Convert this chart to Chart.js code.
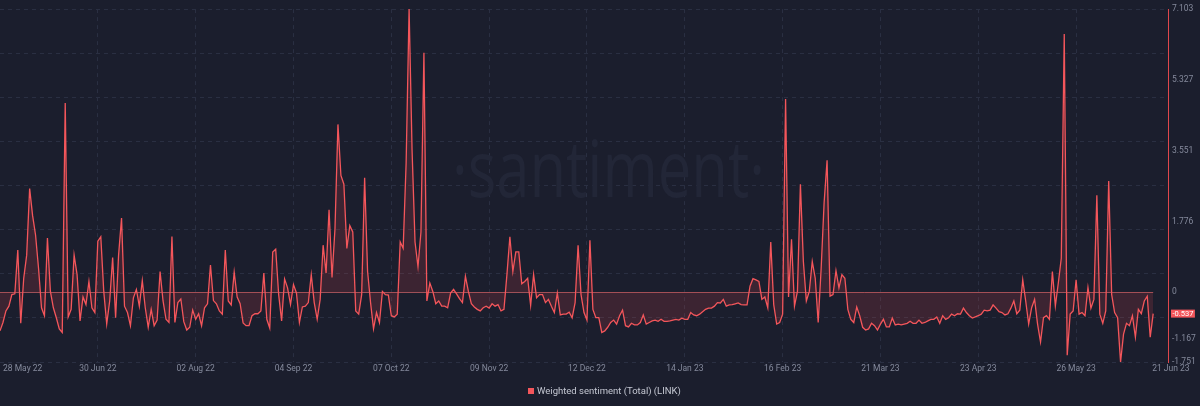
<!DOCTYPE html>
<html>
<head>
  <title>Weighted sentiment (Total) (LINK)</title>
  <script src="https://cdn.jsdelivr.net/npm/chart.js"></script>
  <style>
    body { margin: 0; background: #1b1e2d; }
    .wrap { width: 1200px; height: 406px; position: relative; }
  </style>
</head>
<body>
  <div class="wrap"><canvas id="chart"></canvas></div>

  <script>
    // daily weighted sentiment, 28 May 22 .. 21 Jun 23
    const values = [
      -0.97, -0.76, -0.47, -0.35, -0.06, -0.04, 1.06, -0.78, 0.35, 0.93,
      2.60, 1.92, 1.43, 0.60, -0.39, -0.59, 1.36, 0.02, -0.39, -0.64,
      -0.92, -1.01, 4.75, -0.62, -0.43, 0.93, 0.44, -0.72, -0.12, -0.31,
      0.27, -0.39, -0.51, 1.28, 1.39, 0.02, -0.80, -0.22, 0.87, -0.64,
      0.93, 1.86, -0.35, -0.51, -0.84, -0.14, 0.07, -0.35, 0.29, -0.39,
      -0.88, -0.43, -0.84, -0.70, 0.52, -0.22, -0.68, -0.76, 1.40, -0.76,
      -0.26, -0.17, -0.74, -0.95, -0.88, -0.45, -0.68, -0.54, -0.84, -0.39,
      -0.29, 0.68, -0.21, -0.29, -0.47, -0.55, 1.06, -0.22, -0.32, 0.50,
      -0.12, -0.29, -0.77, -0.84, -0.84, -0.59, -0.54, -0.54, -0.47, 0.48,
      -0.68, -0.90, 1.01, 1.08, -0.06, -0.72, 0.33, 0.11, -0.31, 0.19,
      -0.02, -0.76,
      -0.37, -0.35, -0.26, 0.44, -0.26, -0.68, -0.18, 1.18, 0.48, 2.07,
      0.37, 1.59, 4.21, 2.93, 2.71, 1.10, 1.67, 1.51, -0.47, -0.55,
      -0.06, 2.87, 0.52, -0.26, -0.92, -0.51, -0.76, 0.02, -0.06, -0.07,
      -0.59, -0.62, -0.55, 1.26, 1.10, 3.24, 7.103, 3.57, 1.26, 0.64,
      1.51, 6.01, -0.22, 0.23, 0.02, -0.29, -0.22, -0.35, -0.35, -0.39,
      -0.02, 0.07, -0.04, -0.16, -0.26, 0.40, 0.02, -0.29, -0.37, -0.43,
      -0.47, -0.39, -0.35, -0.40, -0.29, -0.35, -0.31, -0.47, -0.43, 0.44,
      1.39, 0.52, 1.01, 1.01, 0.21, 0.27, 0.35, -0.33, 0.44, -0.14,
      -0.06, -0.06, -0.26, -0.18, -0.35, -0.51, -0.02, -0.57, -0.55, -0.55,
      -0.50, -0.64, -0.26, 1.18, -0.06, -0.51, -0.70,
      1.30, -0.43, -0.64, -0.64, -1.01, -0.97, -0.88, -0.76, -0.70, -0.80,
      -0.59, -0.45, -0.84, -0.87, -0.78, -0.82, -0.82, -0.76, -0.57, -0.80,
      -0.76, -0.72, -0.70, -0.73, -0.68, -0.73, -0.73, -0.72, -0.70, -0.68,
      -0.70, -0.65, -0.68, -0.68, -0.51, -0.57, -0.59, -0.55, -0.49, -0.43,
      -0.40, -0.40, -0.35, -0.26, -0.27, -0.18, -0.35, -0.32, -0.31, -0.29,
      -0.27, -0.31, -0.32, -0.32, 0.15, 0.34, 0.31, 0.27, -0.18, -0.12,
      -0.39, 1.26, -0.31, -0.80, -0.76, -0.55, 4.85, -0.12, 1.33, -0.35,
      0.02, 2.71, 0.77, -0.22, 0.02, 0.77, 0.35, -0.76, 0.60, 2.25,
      3.31, -0.10, -0.06, 0.54, 0.11, 0.44, 0.35, -0.43, -0.68, -0.76,
      -0.37, -0.59, -0.88, -0.95, -0.92, -0.78, -0.84, -0.95,
      -0.80, -0.68, -0.87, -0.87, -0.65, -0.82, -0.80, -0.82, -0.80, -0.78,
      -0.73, -0.78, -0.78, -0.70, -0.78, -0.76, -0.72, -0.68, -0.68, -0.62,
      -0.78, -0.59, -0.68, -0.64, -0.55, -0.59, -0.54, -0.55, -0.40, -0.51,
      -0.59, -0.65, -0.62, -0.59, -0.55, -0.45, -0.47, -0.45, -0.32, -0.40,
      -0.49, -0.51, -0.57, -0.54, -0.40, -0.22, -0.54, -0.45, 0.31, -0.22,
      -0.80, -0.39, -0.18, -0.80, -1.25, -0.64, -0.59, -0.68, 0.52, -0.35,
      0.23, 0.85, 6.48, -1.58, -0.55, -0.47, 0.31, -0.55, -0.51, -0.59,
      0.12, -0.40, -0.18, 2.43, -0.55, -0.78, -0.47, 2.79, -0.06, -0.51,
      -0.64, -1.751, -1.05, -0.78, -0.84, -0.59, -1.13, -0.43, -0.54, -0.22,
      -0.10, -1.13, -0.537
    ];

    const tickLabels = ['28 May 22', '30 Jun 22', '02 Aug 22', '04 Sep 22', '07 Oct 22', '09 Nov 22',
      '12 Dec 22', '14 Jan 23', '16 Feb 23', '21 Mar 23', '23 Apr 23', '26 May 23', '21 Jun 23'];
    const tickIndex = [0, 33, 66, 99, 132, 165, 198, 231, 264, 297, 330, 363, 389];
    const yLabels = [7.103, 5.327, 3.551, 1.776, 0, -1.167, -1.751];

    const yMin = -1.751;
    const yMax = 7.103;
    const lineColor = '#f4565b';
    const textColor = '#858a9c';

    // watermark, zero line, date labels, last-value badge and legend
    const extras = {
      id: 'extras',
      beforeDatasetsDraw(chart) {
        const { ctx, scales: { x, y } } = chart;
        ctx.save();
        ctx.font = '400 78px "Open Sans"';
        ctx.fillStyle = '#222637';
        ctx.textBaseline = 'alphabetic';
        ctx.textAlign = 'left';
        const mark = '·santiment·';
        const w = ctx.measureText(mark).width;
        ctx.translate(452, 197);
        ctx.scale(313 / w, 1);
        ctx.fillText(mark, 0, 0);
        ctx.restore();

        ctx.save();
        const y0 = Math.round(y.getPixelForValue(0)) + 0.5;
        ctx.strokeStyle = '#9c5159';
        ctx.lineWidth = 1;
        ctx.beginPath();
        ctx.moveTo(x.getPixelForValue(0), y0);
        ctx.lineTo(x.getPixelForValue(values.length - 1), y0);
        ctx.stroke();
        ctx.restore();
      },
      afterDraw(chart) {
        const { ctx, chartArea, scales: { x, y } } = chart;
        ctx.save();

        // date labels
        ctx.font = '8.5px Roboto';
        ctx.fillStyle = textColor;
        ctx.textBaseline = 'middle';
        tickLabels.forEach((lbl, i) => {
          const px = x.getPixelForValue(tickIndex[i]);
          if (i === 0) {
            ctx.textAlign = 'left';
            ctx.fillText(lbl, 3, chartArea.bottom + 7);
          } else if (i === tickLabels.length - 1) {
            ctx.textAlign = 'left';
            ctx.fillText(lbl, px - 1, chartArea.bottom + 7);
          } else {
            ctx.textAlign = 'center';
            ctx.fillText(lbl, px, chartArea.bottom + 7);
          }
        });

        // last value badge
        const last = values[values.length - 1];
        const py = y.getPixelForValue(last);
        ctx.font = '7.5px Roboto';
        const txt = last.toFixed(3);
        const tw = ctx.measureText(txt).width;
        ctx.fillStyle = lineColor;
        ctx.fillRect(chartArea.right + 3, py - 4, tw + 3, 8);
        ctx.fillStyle = '#ffffff';
        ctx.textAlign = 'left';
        ctx.fillText(txt, chartArea.right + 4.5, py + 0.5);

        // legend
        ctx.fillStyle = lineColor;
        ctx.fillRect(528, 388, 6, 6);
        ctx.font = '9.5px Roboto';
        ctx.fillStyle = '#c5c8d3';
        ctx.fillText('Weighted sentiment (Total) (LINK)', 537, 391.5);
        ctx.restore();
      }
    };

    new Chart(document.getElementById('chart'), {
      type: 'line',
      data: {
        datasets: [{
          label: 'Weighted sentiment (Total) (LINK)',
          data: values.map((v, i) => ({ x: i, y: v })),
          borderColor: lineColor,
          borderWidth: 1.3,
          backgroundColor: 'rgba(224, 71, 80, 0.17)',
          fill: 'origin',
          pointRadius: 0,
          tension: 0
        }]
      },
      options: {
        responsive: true,
        maintainAspectRatio: false,
        animation: false,
        layout: { padding: { top: 4, bottom: 44, left: 0, right: 0 } },
        plugins: { legend: { display: false }, tooltip: { enabled: false } },
        scales: {
          x: {
            type: 'linear',
            min: 0,
            max: values.length + 4,
            afterBuildTicks: s => { s.ticks = tickIndex.slice(0, -1).map(v => ({ value: v })); },
            afterFit: s => { s.height = 0; },
            ticks: { display: false },
            grid: {
              drawTicks: false,
              color: ctx => ctx.index === 0 ? 'rgba(0,0,0,0)' : '#2a2f42',
              lineWidth: 1
            },
            border: { display: false, dash: [4, 4] }
          },
          y: {
            position: 'right',
            min: yMin,
            max: yMax,
            afterBuildTicks: s => { s.ticks = yLabels.map(v => ({ value: v })); },
            afterFit: s => { s.width = 32; },
            grid: { display: false, drawTicks: false },
            border: { display: true, color: '#e0474c', width: 1 },
            ticks: {
              padding: 4,
              color: textColor,
              font: { family: 'Roboto', size: 8.5 },
              callback: v => String(v)
            }
          },
          yGrid: {
            position: 'right',
            min: yMin,
            max: yMax,
            afterBuildTicks: s => {
              const step = (yMax - yMin) / 8;
              s.ticks = Array.from({ length: 9 }, (_, i) => ({ value: yMin + i * step }));
            },
            afterFit: s => { s.width = 0; },
            ticks: { display: false },
            grid: { drawTicks: false, color: '#2a2f42' },
            border: { display: false, dash: [4, 4] }
          }
        }
      },
      plugins: [extras]
    });
  </script>
</body>
</html>
